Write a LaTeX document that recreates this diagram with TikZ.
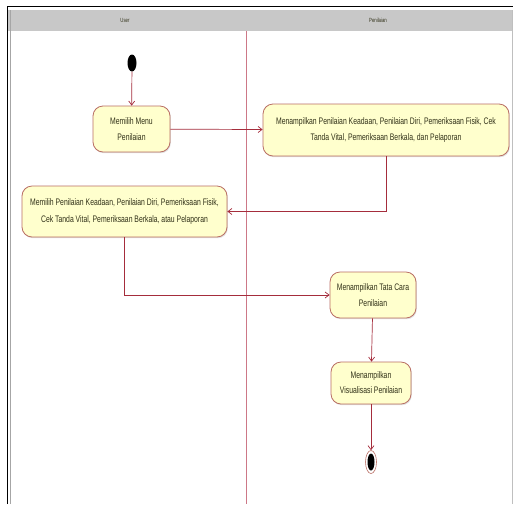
\documentclass[tikz,border=0pt]{standalone}
\usepackage{fontspec}
\setmainfont{Liberation Sans}
\usetikzlibrary{arrows.meta,shadows,shapes.geometric}
\definecolor{laneline}{RGB}{205,120,135}
\definecolor{flow}{RGB}{165,45,60}
\definecolor{actfill}{RGB}{255,255,205}
\definecolor{actdraw}{RGB}{185,110,100}
\definecolor{hdr}{RGB}{200,200,200}
\definecolor{txt}{RGB}{50,50,25}
% narrow text lines
\newcommand\nl[1]{\scalebox{0.72}[1]{#1}}
\tikzset{
  action/.style={rectangle, rounded corners=10pt, draw=actdraw, line width=0.8pt,
    fill=actfill, align=center, font=\fontsize{9.5}{16.5}\selectfont, text=txt,
    inner sep=2pt, drop shadow={opacity=0.25, shadow xshift=0.8pt, shadow yshift=-1.2pt}},
  flowline/.style={draw=flow, line width=0.7pt, -{Straight Barb[length=4pt,width=6pt]}},
  lanehead/.style={font=\fontsize{6}{7}\selectfont, text=txt},
}
\begin{document}
\begin{tikzpicture}[x=1pt,y=-1pt]
\useasboundingbox (0,0) rectangle (513,504);
\fill[white] (0,0) rectangle (513,504);
% swimlane frame and header
\fill[hdr] (8,10) rectangle (513,31);
\draw[black, line width=1.6pt] (7.5,504) -- (7.5,6.5) -- (513,6.5);
\draw[gray!70, line width=0.5pt] (10,10) -- (10,504);
\draw[laneline, line width=0.7pt] (246,31) -- (246,504);
\draw[gray!50, line width=0.5pt] (512,10) -- (512,504);
\node[lanehead] (laneUser) at (125,20.5) {\nl{User}};
\node[lanehead] (laneSys) at (378,20.5) {\nl{Penilaian}};
% activity nodes
\node[fill=black, ellipse, minimum width=9pt, minimum height=17pt, inner sep=0pt, draw=none] (init) at (132,63) {};
\node[action, minimum width=77pt, minimum height=46pt] (n1) at (131.5,129)
  {\nl{Memilih Menu}\\\nl{Penilaian}};
\node[action, minimum width=246pt, minimum height=52pt] (n2) at (386,130)
  {\nl{Menampilkan Penilaian Keadaan, Penilaian Diri, Pemeriksaan Fisik, Cek}\\
   \nl{Tanda Vital, Pemeriksaan Berkala, dan Pelaporan}};
\node[action, minimum width=205pt, minimum height=51pt] (n3) at (124.5,211.5)
  {\nl{Memilih Penilaian Keadaan, Penilaian Diri, Pemeriksaan Fisik,}\\
   \nl{Cek Tanda Vital, Pemeriksaan Berkala, atau Pelaporan}};
\node[action, minimum width=86pt, minimum height=46pt] (n4) at (373,295)
  {\nl{Menampilkan Tata Cara}\\\nl{Penilaian}};
\node[action, minimum width=80pt, minimum height=42pt, font=\fontsize{9.5}{15}\selectfont] (n5) at (371,383)
  {\nl{Menampilkan}\\\nl{Visualisasi Penilaian}};
\node[ellipse, draw=actdraw, fill=white, line width=0.6pt, minimum width=11pt, minimum height=23pt, inner sep=0pt] (fin) at (371,462) {};
\node[ellipse, fill=black, minimum width=7pt, minimum height=17pt, inner sep=0pt] (finc) at (fin.center) {};
% control flow
\draw[flowline] (init) -- (n1);
\draw[flowline] (n1) -- (n2);
\draw[flowline] (n2.south) |- (n3.east);
\draw[flowline] (n3.south) |- (n4.west);
\draw[flowline] (n4) -- (n5);
\draw[flowline] (n5) -- (fin);
\end{tikzpicture}
\end{document}
